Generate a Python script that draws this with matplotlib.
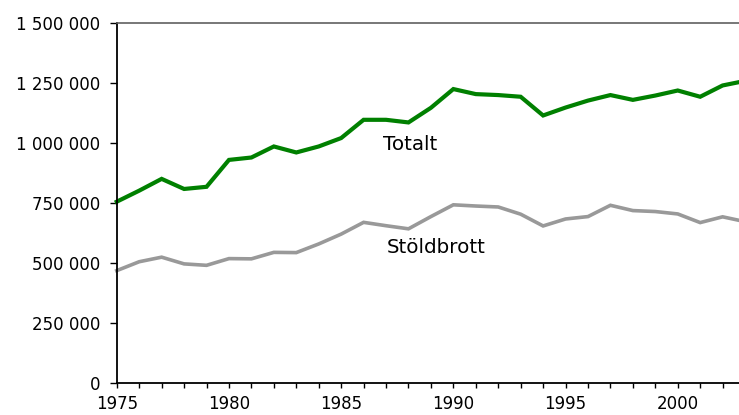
import matplotlib
matplotlib.use("Agg")
import matplotlib.pyplot as plt
from matplotlib.ticker import FuncFormatter, MultipleLocator

years = list(range(1975, 2004))
totalt = [755000, 801000, 850000, 808000, 817000, 929000, 939000, 985000, 960000, 985000,
          1020000, 1096000, 1096000, 1085000, 1146000, 1224000, 1203000, 1199000, 1192000, 1114000,
          1147000, 1176000, 1199000, 1179000, 1197000, 1218000, 1192000, 1239000, 1258000]
stoldbrott = [468000, 505000, 524000, 496000, 490000, 518000, 517000, 544000, 543000, 579000,
              620000, 669000, 655000, 642000, 693000, 742000, 737000, 733000, 703000, 654000,
              683000, 693000, 740000, 718000, 714000, 704000, 668000, 692000, 672000]
series_labels = ["Totalt", "Stöldbrott"]
label_pos = [(1986.87, 971000), (1987.05, 540000)]

# the original text is wide, DejaVu is the closest of the installed fonts
plt.rcParams['font.family'] = ['DejaVu Sans']

fig = plt.figure(figsize=(7.39, 4.15), dpi=100)
# right edge of the axes falls just outside the picture, as in the original
ax = fig.add_axes([0.158, 0.0771, 0.8502, 0.868])

ax.plot(years, totalt, color='#008000', lw=3.0, solid_joinstyle='miter', clip_on=False)
ax.plot(years, stoldbrott, color='#999999', lw=2.6, solid_joinstyle='miter', clip_on=False)

for text, (x, y) in zip(series_labels, label_pos):
    ax.text(x, y, text, fontsize=14.3, color='black', ha='left', va='baseline')

ax.set_xlim(1975, 2003)
ax.set_ylim(0, 1500000)
ax.xaxis.set_major_locator(MultipleLocator(5))
ax.xaxis.set_minor_locator(MultipleLocator(1))
ax.yaxis.set_major_locator(MultipleLocator(250000))
ax.yaxis.set_major_formatter(FuncFormatter(lambda v, p: f"{int(v):,}".replace(",", " ")))

ax.spines['right'].set_visible(False)
ax.spines['top'].set_color('#606060')
ax.spines['top'].set_linewidth(1.2)
ax.spines['left'].set_linewidth(1.3)
ax.spines['bottom'].set_linewidth(1.3)

ax.tick_params(axis='y', direction='out', length=5, width=1, pad=7, labelsize=12)
ax.tick_params(axis='x', which='both', direction='out', length=3.5, width=1, pad=5, labelsize=12)

# top tick runs into the grey top line
ax.yaxis.get_major_ticks()[-1].tick1line.set_color('#606060')

fig.savefig("out.png", dpi=100)
